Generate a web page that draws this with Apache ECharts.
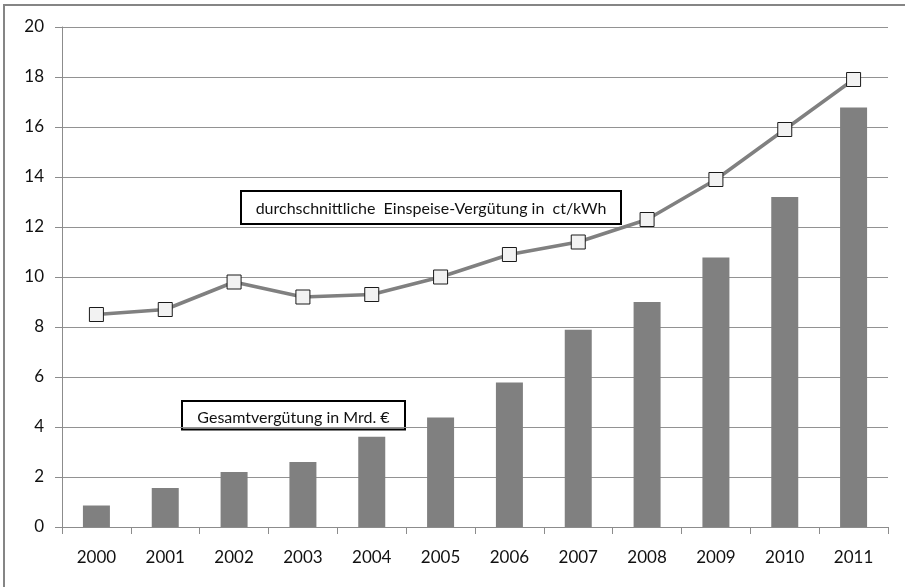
<!DOCTYPE html>
<html>
<head>
<meta charset="utf-8">
<script src="https://cdn.jsdelivr.net/npm/echarts@6/dist/echarts.min.js"></script>
<style>
  html, body { margin: 0; padding: 0; background: #fff; }
  #chart { width: 905px; height: 587px; }
</style>
</head>
<body>
<div id="chart"></div>
<script>
// Jahre
const years = ['2000', '2001', '2002', '2003', '2004', '2005', '2006', '2007', '2008', '2009', '2010', '2011'];
// Gesamtvergütung in Mrd. €
const totalPayment = [0.86, 1.56, 2.2, 2.6, 3.61, 4.38, 5.78, 7.89, 9.0, 10.78, 13.2, 16.78];
// durchschnittliche Einspeise-Vergütung in ct/kWh
const avgTariff = [8.5, 8.7, 9.8, 9.2, 9.3, 10.0, 10.9, 11.4, 12.3, 13.9, 15.9, 17.9];
// y-Achse
const yMin = 0, yMax = 20, yStep = 2;

const labelTariff = 'durchschnittliche  Einspeise-Vergütung in  ct/kWh';
const labelTotal = 'Gesamtvergütung in Mrd. €';

const FONT = 'Lato, "Open Sans", sans-serif';
const GREY = '#808080';

const chart = echarts.init(document.getElementById('chart'), null, { renderer: 'canvas' });

chart.setOption({
  animation: false,
  backgroundColor: '#ffffff',
  grid: { left: 62, right: 17, top: 27, bottom: 60, containLabel: false },
  xAxis: {
    type: 'category',
    data: years,
    boundaryGap: true,
    axisLine: { show: true, lineStyle: { color: '#8c8c8c', width: 1 } },
    axisTick: { show: true, length: 7, alignWithLabel: false, lineStyle: { color: '#8c8c8c' } },
    axisLabel: { color: '#111111', fontFamily: FONT, fontSize: 17, margin: 22 },
    splitLine: { show: false }
  },
  yAxis: {
    type: 'value',
    min: yMin, max: yMax, interval: yStep,
    axisLine: { show: true, lineStyle: { color: '#8c8c8c', width: 1 } },
    axisTick: { show: true, length: 7, lineStyle: { color: '#8c8c8c' } },
    axisLabel: { color: '#111111', fontFamily: FONT, fontSize: 17, margin: 18 },
    splitLine: { show: true, lineStyle: { color: '#929292', width: 1 } }
  },
  series: [
    {
      name: labelTotal,
      type: 'bar',
      data: totalPayment,
      barWidth: 27,
      itemStyle: { color: GREY },
      z: 2
    },
    {
      name: labelTariff,
      type: 'line',
      data: avgTariff,
      symbol: 'rect',
      symbolSize: 14,
      showAllSymbol: true,
      lineStyle: { color: GREY, width: 3.5 },
      itemStyle: { color: '#f2f2f2', borderColor: '#1a1a1a', borderWidth: 1 },
      z: 3
    }
  ],
  graphic: [
    // Rahmen des Diagrammbereichs
    {
      type: 'rect',
      shape: { x: 4, y: 5, width: 940, height: 620 },
      style: { fill: 'none', stroke: '#858585', lineWidth: 2 },
      silent: true, z: 0
    },
    // Beschriftung der Linie
    {
      type: 'group',
      left: 240, top: 190,
      z: 10,
      children: [
        { type: 'rect', shape: { x: 0, y: 0, width: 380, height: 33 },
          style: { fill: '#ffffff', stroke: '#000000', lineWidth: 2 } },
        { type: 'text', x: 190, y: 17.5,
          style: { text: labelTariff, fill: '#111', font: '16px ' + FONT, align: 'center', verticalAlign: 'middle' } }
      ]
    },
    // Beschriftung der Säulen
    {
      type: 'group',
      left: 181, top: 400,
      z: 10,
      children: [
        { type: 'rect', shape: { x: 0, y: 0, width: 223, height: 28.5 },
          style: { fill: '#ffffff', stroke: '#000000', lineWidth: 2 } },
        { type: 'text', x: 111.5, y: 17,
          style: { text: labelTotal, fill: '#111', font: '16px ' + FONT, align: 'center', verticalAlign: 'middle' } }
      ]
    }
  ]
});
</script>
</body>
</html>
